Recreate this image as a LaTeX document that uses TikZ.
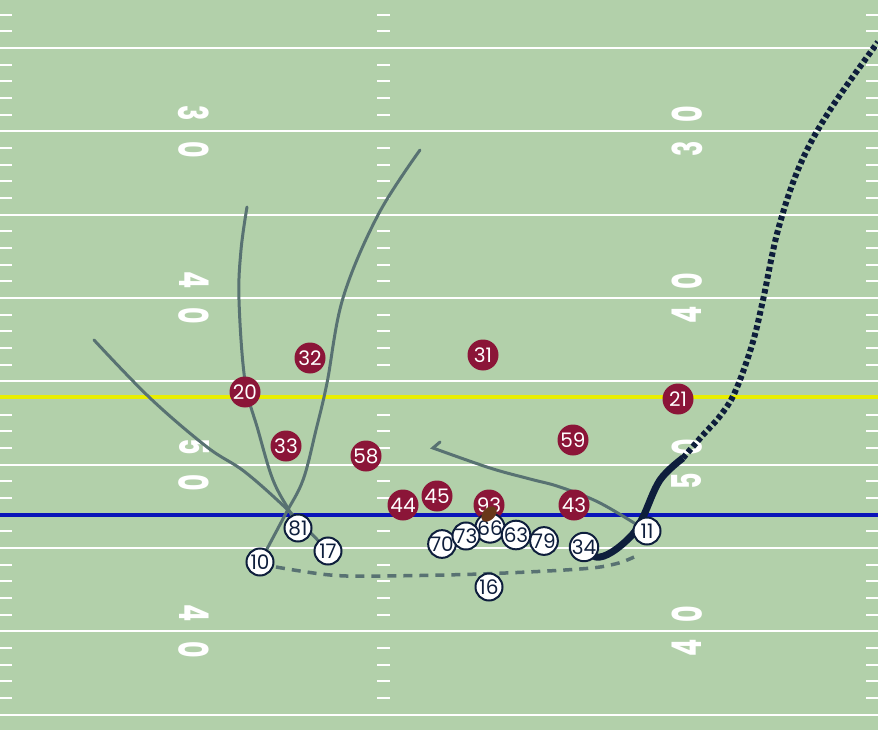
\documentclass[tikz,border=0pt]{standalone}
\usepackage{graphicx}
\usepackage{fontspec}
\setmainfont{Poppins}
\definecolor{field}{RGB}{178,208,170}
\definecolor{maroon}{RGB}{139,21,56}
\definecolor{navy}{RGB}{14,30,60}
\definecolor{slate}{RGB}{88,114,114}
\definecolor{losblue}{RGB}{10,20,185}
\definecolor{firstdown}{RGB}{232,238,0}
\definecolor{ballc}{RGB}{105,55,25}
\newcommand\yardnumtext[1]{\scalebox{0.62}[1]{#1}}
\begin{document}
\begin{tikzpicture}[x=1pt,y=-1pt,
  yardline/.style={draw=white,line width=2pt},
  hashmark/.style={draw=white,line width=2pt},
  yardnum/.style={text=white,inner sep=0pt,font=\bfseries\fontsize{41}{41}\selectfont},
  defplayer/.style={circle,fill=maroon,minimum size=31pt,inner sep=0pt,text=white,font=\fontsize{20}{20}\selectfont},
  offplayer/.style={circle,fill=white,draw=navy,line width=2pt,minimum size=27pt,inner sep=0pt,text=navy,font=\fontsize{20}{20}\selectfont},
  route/.style={draw=slate,line width=3pt,line cap=round},
  motion/.style={draw=slate,line width=3.5pt,dash pattern=on 9pt off 7pt},
  carry/.style={draw=navy,line width=7pt},
  carrydots/.style={draw=navy,line width=6pt,dash pattern=on 4.5pt off 3pt}]
\fill[field] (0,0) rectangle (878,730);
\clip (0,0) rectangle (878,730);
% yard lines
\foreach \k in {0,...,8}{
  \draw[yardline] (0,48+83.333*\k) -- (878,48+83.333*\k);
}
% hash marks
\foreach \k in {-1,...,8}{
  \foreach \i in {1,...,4}{
    \pgfmathsetmacro\yy{48+83.333*\k+16.667*\i}
    \draw[hashmark] (0,\yy) -- (12,\yy);
    \draw[hashmark] (377,\yy) -- (390,\yy);
    \draw[hashmark] (866,\yy) -- (878,\yy);
  }
}
% yard numbers
\foreach \yl/\a/\b [count=\n] in {131.333/3/0, 298/4/0, 464.667/5/0, 631.333/4/0}{
  \node[yardnum,rotate=-90] (la\n) at (194,\yl-18) {\yardnumtext{\a}};
  \node[yardnum,rotate=-90] (lb\n) at (194,\yl+18) {\yardnumtext{\b}};
  \node[yardnum,rotate=90] (rb\n) at (687,\yl-17) {\yardnumtext{\b}};
  \node[yardnum,rotate=90] (ra\n) at (687,\yl+17) {\yardnumtext{\a}};
}
% first down and scrimmage lines
\draw[firstdown,line width=4pt] (0,397) -- (878,397);
\draw[losblue,line width=4pt] (0,515) -- (878,515);
% offense positions
\coordinate (c81) at (298,528);
\coordinate (c17) at (328,551);
\coordinate (c10) at (260,562);
\coordinate (c70) at (442,544);
\coordinate (c73) at (466,536);
\coordinate (c66) at (490,528);
\coordinate (c63) at (516,535);
\coordinate (c79) at (544,541);
\coordinate (c34) at (584,547);
\coordinate (c11) at (647,531);
\coordinate (c16) at (489,587);
\coordinate (e17) at (94,340);
\coordinate (e81) at (247,207);
\coordinate (e10) at (420,150);
\coordinate (e11) at (440,442);
\coordinate (m10a) at (276,567);
\coordinate (m10b) at (634,557);
\coordinate (e34) at (878,42);
% routes
\draw[route] plot[smooth,tension=0.6] coordinates {(c17) (290,512) (245,472) (207,447) (150,398) (e17)};
\draw[route] plot[smooth,tension=0.6] coordinates {(c81) (290,512) (273,480) (258,430) (245,381) (239,300) (241,250) (e81)};
\draw[route] plot[smooth,tension=0.6] coordinates {(c10) (285,515) (303,480) (316,430) (327,383) (343,298) (378,215) (e10)};
\draw[route] plot[smooth,tension=0.6] coordinates {(c11) (600,503) (560,487) (530,479) (490,468) (433,448)} -- (e11);
\draw[motion] plot[smooth,tension=0.6] coordinates {(m10a) (330,575) (380,576) (480,574) (580,569) (615,564) (m10b)};
\draw[carry] plot[smooth,tension=0.6] coordinates {(c34) (596,557) (612,552) (632,535) (643,517) (660,480) (683,458)};
\draw[carrydots] plot[smooth,tension=0.6] coordinates {(683,458) (703,435) (720,416) (735,392) (752,345) (763,300) (778,230) (800,165) (830,110) (e34)};
% defense
\foreach \n/\x/\y in {32/310/358, 31/483/355, 20/245/392, 21/678/399, 33/286/446, 58/366/456, 59/573/440, 44/403/505, 45/437/496, 93/489/505, 43/574/505}{
  \node[defplayer] (d\n) at (\x,\y) {\n};
}
% offense
\foreach \n in {66,70,73,63,79,34,11,81,17,10,16}{
  \node[offplayer] (o\n) at (c\n) {\n};
}
% ball
\fill[ballc,rotate around={45:(489,514)}] (489,514) ellipse [x radius=9, y radius=6];
\end{tikzpicture}
\end{document}
